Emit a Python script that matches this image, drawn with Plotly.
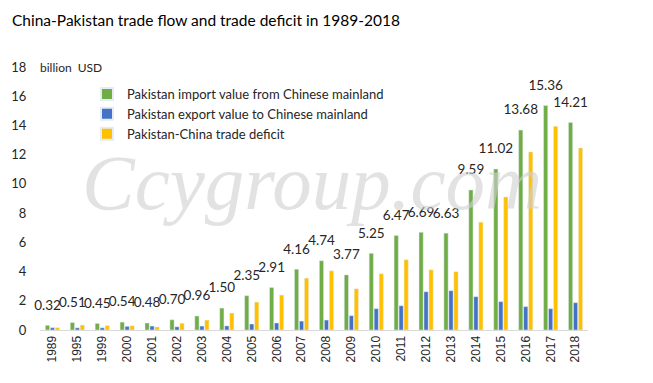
import plotly.graph_objects as go

years = ["1989", "1995", "1999", "2000", "2001", "2002", "2003", "2004", "2005", "2006",
         "2007", "2008", "2009", "2010", "2011", "2012", "2013", "2014", "2015", "2016",
         "2017", "2018"]
imports = [0.32, 0.51, 0.45, 0.54, 0.48, 0.70, 0.96, 1.50, 2.35, 2.91,
           4.16, 4.74, 3.77, 5.25, 6.47, 6.69, 6.63, 9.59, 11.02, 13.68,
           15.36, 14.21]
exports = [0.16, 0.15, 0.15, 0.25, 0.27, 0.22, 0.27, 0.28, 0.41, 0.48,
           0.61, 0.68, 0.98, 1.46, 1.66, 2.62, 2.69, 2.28, 1.94, 1.60,
           1.46, 1.87]
deficit = [0.16, 0.34, 0.30, 0.29, 0.21, 0.46, 0.68, 1.16, 1.91, 2.39,
           3.55, 4.05, 2.82, 3.85, 4.81, 4.12, 3.99, 7.38, 9.11, 12.19,
           13.94, 12.46]
import_labels = [f"{v:.2f}" for v in imports]

FONT = "Lato"
W, H = 653, 383
L, R, T, B = 40, 65, 67, 53
PW, PH = W - L - R, H - T - B
BARGAP, GROUPGAP = 0.40, 0.15
n = len(years)
# shift (in category units) of the first bar of each group from the category centre
green_shift = -(1 - BARGAP) / 3

fig = go.Figure()
fig.add_trace(go.Bar(x=years, y=imports, name="Pakistan import value from Chinese mainland",
                     marker_color="#70AD47"))
fig.add_trace(go.Bar(x=years, y=exports, name="Pakistan export value to Chinese mainland",
                     marker_color="#4472C4"))
fig.add_trace(go.Bar(x=years, y=deficit, name="Pakistan-China trade deficit",
                     marker_color="#FFC000"))
# value labels above the green bars
fig.add_trace(go.Scatter(x=list(range(n)), y=imports, xaxis="x2", mode="markers+text",
                         text=import_labels, textposition="top center",
                         marker=dict(size=18, opacity=0), showlegend=False,
                         hoverinfo="skip", cliponaxis=False,
                         textfont=dict(family=FONT, size=13.5, color="#262626")))

fig.update_layout(
    width=W, height=H,
    margin=dict(l=L, r=R, t=T, b=B, pad=0),
    paper_bgcolor="white", plot_bgcolor="white",
    barmode="group", bargap=BARGAP, bargroupgap=GROUPGAP,
    font=dict(family=FONT, color="#262626"),
    title=dict(text="China-Pakistan trade flow and trade deficit in 1989-2018",
               x=12 / W, xanchor="left", y=1 - 21 / H, yanchor="middle",
               font=dict(family=FONT, size=15.5, color="#000000")),
    showlegend=True,
    legend=dict(x=(87 - L) / PW, y=1 - (79 - T) / PH,
                xanchor="left", yanchor="top", bgcolor="rgba(0,0,0,0)",
                font=dict(family=FONT, size=13, color="#262626"),
                tracegroupgap=0, itemsizing="constant"),
    xaxis=dict(type="category", showline=True, linecolor="#D9D9D9", linewidth=1,
               tickangle=-90, ticks="", showgrid=False, automargin=False,
               tickfont=dict(family="Liberation Sans", size=12, color="#262626")),
    xaxis2=dict(overlaying="x", range=[-0.5 - green_shift, n - 0.5 - green_shift],
                visible=False, showgrid=False, zeroline=False),
    yaxis=dict(range=[0, 18], dtick=2, showgrid=False, zeroline=False, showline=False,
               ticks="outside", ticklen=10, tickcolor="rgba(0,0,0,0)", automargin=False,
               tickfont=dict(family=FONT, size=13, color="#262626")),
)

fig.add_annotation(text="billion  USD", xref="paper", yref="paper",
                   x=(38 - L) / PW, y=1.0, xanchor="left", yanchor="middle",
                   showarrow=False, font=dict(family=FONT, size=12, color="#262626"))

fig.add_annotation(text="<i>Ccygroup.com</i>", xref="paper", yref="paper",
                   x=(312 - L) / PW, y=1 - (182 - T) / PH,
                   xanchor="center", yanchor="middle", showarrow=False,
                   font=dict(family="Liberation Serif", size=79, color="#D0D0D0"),
                   opacity=0.6)

fig.write_html("out.html", config={"displayModeBar": False},
               post_script="document.body.style.margin='0';")
